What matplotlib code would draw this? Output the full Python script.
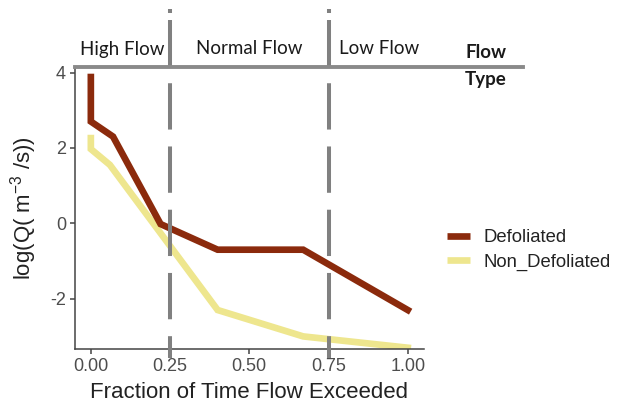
import matplotlib
matplotlib.use("Agg")
import matplotlib.pyplot as plt
import matplotlib.transforms as mtransforms
from matplotlib.lines import Line2D

plt.rcParams['font.family'] = ['Liberation Sans', 'DejaVu Sans']
plt.rcParams['mathtext.fontset'] = 'custom'
plt.rcParams['mathtext.rm'] = 'Liberation Sans'
plt.rcParams['mathtext.it'] = 'Liberation Sans:italic'
plt.rcParams['axes.unicode_minus'] = False

# exceedance curves
defol_x = [0.0, 0.0, 0.07, 0.22, 0.40, 0.67, 1.0]
defol_y = [3.88, 2.70, 2.30, -0.02, -0.70, -0.70, -2.30]
nondef_x = [0.0, 0.0, 0.06, 0.40, 0.67, 1.0]
nondef_y = [2.26, 1.97, 1.55, -2.30, -3.00, -3.30]

series = ['Defoliated', 'Non_Defoliated']
colors = ['#8b2a0c', '#eee68e']

flow_breaks = [0.25, 0.75]
flow_types = ['High Flow', 'Normal Flow', 'Low Flow']
flow_label_x = [0.10, 0.50, 0.91]

xticks = [0.0, 0.25, 0.50, 0.75, 1.0]
xtick_labels = ['0.00', '0.25', '0.50', '0.75', '1.00']
yticks = [-2, 0, 2, 4]

W, H = 619, 416
fig = plt.figure(figsize=(W / 100, H / 100), dpi=100)

def fx(px):
    return px / W

def fy(py):
    return 1 - py / H

ax = fig.add_axes([fx(75), fy(349.3), fx(423.6 - 75), (349.3 - 67.3) / H])

ax.plot(defol_x, defol_y, color=colors[0], lw=4.8, solid_joinstyle='miter', zorder=3)
ax.plot(nondef_x, nondef_y, color=colors[1], lw=4.8, solid_joinstyle='miter', zorder=2)

ax.set_xlim(-0.05, 1.05)
ax.set_ylim(-3.342, 4.138)
ax.set_xticks(xticks)
ax.set_xticklabels(xtick_labels)
ax.set_yticks(yticks)

for s in ['top', 'right']:
    ax.spines[s].set_visible(False)
for s in ['left', 'bottom']:
    ax.spines[s].set_color('#444444')
    ax.spines[s].set_linewidth(1.1)
ax.tick_params(axis='both', colors='#444444', labelcolor='#4d4d4d',
               labelsize=13, length=3.5, width=1.1, pad=3)

ax.set_xlabel('Fraction of Time Flow Exceeded', fontsize=16, color='#222222', labelpad=5)
ax.set_ylabel(r'log(Q( m$^{-3}$ /s))', fontsize=16, color='#222222', labelpad=8)

# flow type boundaries and header bar
trans = mtransforms.blended_transform_factory(ax.transData, fig.transFigure)
for xb in flow_breaks:
    ax.plot([xb, xb], [fy(20), fy(358)], transform=trans, color='#808080',
            lw=2.9, dashes=(11.5, 4.2), clip_on=False, zorder=4,
            solid_capstyle='butt', dash_capstyle='butt')
    ax.plot([xb, xb], [fy(9), fy(13)], transform=trans, color='#808080',
            lw=2.9, clip_on=False, zorder=4, solid_capstyle='butt')

fig.add_artist(Line2D([fx(75), fx(522.5)], [fy(67.3), fy(67.3)],
                      color='#8a8a8a', lw=2.8, transform=fig.transFigure))

hdr = dict(family=['Lato', 'DejaVu Sans'], fontsize=13.5, color='#1a1a1a',
           ha='center', va='center')
for lbl, lx in zip(flow_types, flow_label_x):
    fig.text(fx(90.7 + lx * 317), fy(49), lbl, **hdr)
fig.text(fx(486), fy(53), 'Flow', fontweight='bold', **hdr)
fig.text(fx(486), fy(80), 'Type', fontweight='bold', **hdr)

handles = [Line2D([0], [0], color=c, lw=4.8, solid_capstyle='butt') for c in colors]
fig.legend(handles, series, loc='center left', bbox_to_anchor=(fx(447), fy(250)),
           frameon=False, fontsize=13.3, handlelength=1.25, handletextpad=0.7,
           labelspacing=0.42, borderpad=0, borderaxespad=0, labelcolor='#222222')

fig.savefig('out.png', dpi=100)
